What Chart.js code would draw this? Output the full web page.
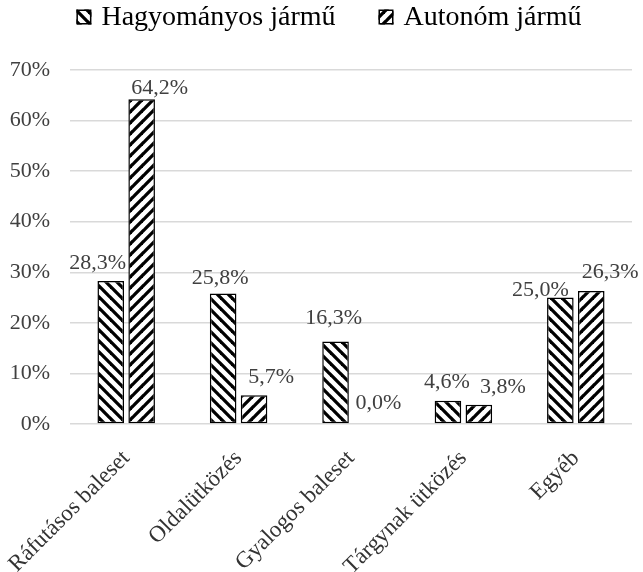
<!DOCTYPE html>
<html>
<head>
<meta charset="utf-8">
<script src="https://cdn.jsdelivr.net/npm/chart.js@4"></script>
<style>
html,body{margin:0;padding:0;background:#fff;}
#wrap{width:643px;height:572px;position:relative;}
</style>
</head>
<body>
<div id="wrap"><canvas id="c"></canvas></div>
<script>
const categories = ["Ráfutásos baleset", "Oldalütközés", "Gyalogos baleset", "Tárgynak ütközés", "Egyéb"];
const seriesNames = ["Hagyományos jármű", "Autonóm jármű"];
const hagyomanyos = [28.3, 25.8, 16.3, 4.6, 25.0];
const autonom = [64.2, 5.7, 0.0, 3.8, 26.3];
const yTicks = [0, 10, 20, 30, 40, 50, 60, 70];

function hatch(dir) {
  const p = 11;
  const c = document.createElement('canvas');
  c.width = p; c.height = p;
  const g = c.getContext('2d');
  g.fillStyle = '#fff'; g.fillRect(0, 0, p, p);
  g.strokeStyle = '#000'; g.lineWidth = 3.3; g.lineCap = 'square';
  for (let k = -1; k <= 1; k++) {
    g.beginPath();
    if (dir === 'back') { g.moveTo(k * p, 0); g.lineTo(k * p + p, p); }
    else { g.moveTo(k * p, p); g.lineTo(k * p + p, 0); }
    g.stroke();
  }
  return g.createPattern(c, 'repeat');
}

const serif = '"Liberation Serif", "Times New Roman", serif';

const labelOffsets = [
  [[-13, 18], [-3, 15], [-2, 23], [-1, 19], [-20, 7]],
  [[18, 11], [17, 18], [12, 21], [24, 18], [19, 19]]
];

const labelPlugin = {
  id: 'barLabels',
  afterDatasetsDraw(chart) {
    const ctx = chart.ctx;
    ctx.save();
    ctx.font = '22px ' + serif;
    ctx.fillStyle = '#404040';
    ctx.textAlign = 'center';
    ctx.textBaseline = 'middle';
    chart.data.datasets.forEach((ds, di) => {
      const meta = chart.getDatasetMeta(di);
      meta.data.forEach((bar, i) => {
        const v = ds.data[i];
        const txt = v.toFixed(1).replace('.', ',') + '%';
        const off = labelOffsets[di][i];
        ctx.fillText(txt, bar.x + off[0], bar.y - off[1]);
      });
    });
    ctx.restore();
  }
};

const legendPlugin = {
  id: 'topLegend',
  afterDraw(chart) {
    const ctx = chart.ctx;
    ctx.save();
    ctx.font = '28px ' + serif;
    ctx.textBaseline = 'middle';
    ctx.textAlign = 'left';
    const box = 15, gapText = 10, gapItem = 43, cy = 17;
    const ds = chart.data.datasets;
    const widths = ds.map(d => ctx.measureText(d.label).width);
    let total = 0;
    ds.forEach((d, i) => { total += box + gapText + widths[i] + (i < ds.length - 1 ? gapItem : 0); });
    let x = 329 - total / 2;
    ds.forEach((d, i) => {
      ctx.fillStyle = d.backgroundColor;
      ctx.fillRect(x, cy - box / 2, box, box);
      ctx.strokeStyle = '#000';
      ctx.lineWidth = 1.5;
      ctx.strokeRect(x + 0.75, cy - box / 2 + 0.75, box - 1.5, box - 1.5);
      ctx.fillStyle = '#000';
      ctx.fillText(d.label, x + box + gapText, cy + 1);
      x += box + gapText + widths[i] + gapItem;
    });
    ctx.restore();
  }
};

new Chart(document.getElementById('c'), {
  type: 'bar',
  data: {
    labels: categories,
    datasets: [
      { label: seriesNames[0], data: hagyomanyos, backgroundColor: hatch('back'), borderColor: '#000', borderWidth: 1.5, borderSkipped: false },
      { label: seriesNames[1], data: autonom, backgroundColor: hatch('fwd'), borderColor: '#000', borderWidth: 1.5, borderSkipped: false }
    ]
  },
  options: {
    responsive: true,
    maintainAspectRatio: false,
    animation: false,
    datasets: { bar: { categoryPercentage: 0.55, barPercentage: 0.86 } },
    layout: { padding: { top: 70, right: 11, left: 0, bottom: 0 } },
    plugins: {
      legend: { display: false },
      tooltip: { enabled: false }
    },
    scales: {
      x: {
        grid: { display: false, drawTicks: false },
        border: { display: false },
        ticks: {
          maxRotation: 45, minRotation: 45,
          font: { family: serif, size: 23 },
          color: '#333',
          padding: 21
        },
        afterFit(s) { s.height = 148; s.paddingLeft = 0; s.paddingRight = 0; }
      },
      y: {
        min: 0, max: 70,
        afterBuildTicks(s) { s.ticks = yTicks.map(v => ({ value: v })); },
        grid: { color: '#d9d9d9', lineWidth: 1.5, drawTicks: false },
        border: { display: false },
        ticks: {
          font: { family: serif, size: 22 },
          color: '#404040',
          padding: 20,
          callback: v => v + '%'
        },
        afterFit(s) { s.width = 70; s.paddingTop = 0; s.paddingBottom = 0; }
      }
    }
  },
  plugins: [labelPlugin, legendPlugin]
});
</script>
</body>
</html>
